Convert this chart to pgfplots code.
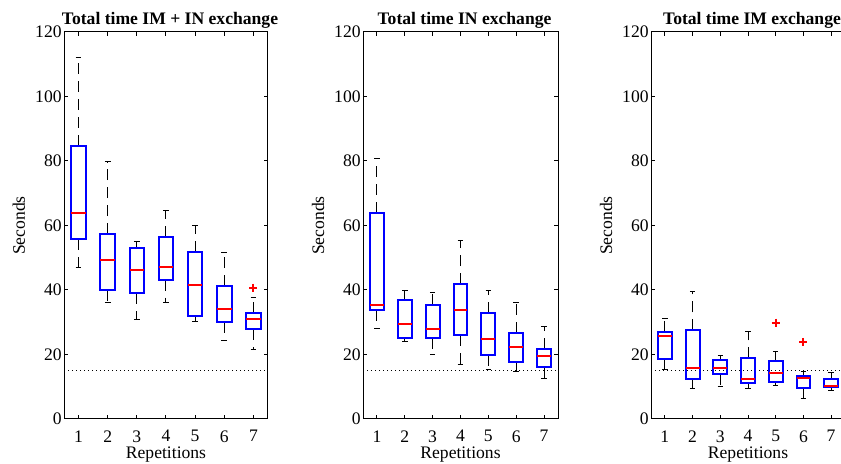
\documentclass[border=0pt]{standalone}
\usepackage{pgfplots}
\pgfplotsset{compat=1.18}
\usepgfplotslibrary{statistics}
\usepackage{fontspec}
\setmainfont{Liberation Serif}

\newcommand{\fs}{\fontsize{8.8}{10}\selectfont}

% one prepared box: position, lower whisker, lower quartile, median, upper quartile, upper whisker
\newcommand{\bx}[6]{%
  \addplot[blue, boxplot prepared={draw position=#1, lower whisker=#2, lower quartile=#3,
    median=#4, upper quartile=#5, upper whisker=#6}] coordinates {};}

\pgfplotsset{
  panel/.style={
    scale only axis, height=193.5pt,
    xmin=0.5, xmax=7.5, ymin=0, ymax=120,
    xtick={1,...,7}, ytick={0,20,...,120},
    tick align=inside, tick pos=both, major tick length=2pt,
    axis line style={line width=0.5pt},
    every tick/.style={black, line width=0.5pt},
    /pgf/number format/assume math mode=true,
    tick label style={font=\fs},
    yticklabel style={inner sep=1pt},
    xticklabel style={inner sep=1pt, yshift=-4.5pt},
    every axis title shift=0pt,
    title style={font=\fs\bfseries, at={(axis description cs:0.5,1)}, anchor=base, yshift=3.5pt, xshift=2pt},
    xlabel style={font=\fs, at={(axis description cs:0.5,0)}, anchor=base, yshift=-20pt},
    ylabel style={font=\fs, at={([xshift=-19.5pt]axis description cs:0,0.5)}, rotate=0, anchor=base},
    xlabel={Repetitions}, ylabel={Seconds},
    boxplot/draw direction=y,
    boxplot/box extend=0.5,
    boxplot/whisker extend=0.2,
    boxplot/draw/box/.code={%
      \draw[draw=blue, line width=1pt]
        (boxplot box cs:\pgfplotsboxplotvalue{lower quartile},0) rectangle
        (boxplot box cs:\pgfplotsboxplotvalue{upper quartile},1);
    },
    boxplot/draw/median/.code={%
      \draw[draw=red, line width=1pt]
        (boxplot box cs:\pgfplotsboxplotvalue{median},0) --
        (boxplot box cs:\pgfplotsboxplotvalue{median},1);
    },
    boxplot/draw/lower whisker/.code={%
      \draw[draw=black, line width=0.5pt, dash pattern=on 5.5pt off 3.5pt]
        (boxplot cs:\pgfplotsboxplotvalue{lower quartile}) -- (boxplot cs:\pgfplotsboxplotvalue{lower whisker});
      \draw[draw=black, line width=0.5pt]
        (boxplot whisker cs:\pgfplotsboxplotvalue{lower whisker},0) -- (boxplot whisker cs:\pgfplotsboxplotvalue{lower whisker},1);
    },
    boxplot/draw/upper whisker/.code={%
      \draw[draw=black, line width=0.5pt, dash pattern=on 5.5pt off 3.5pt]
        (boxplot cs:\pgfplotsboxplotvalue{upper quartile}) -- (boxplot cs:\pgfplotsboxplotvalue{upper whisker});
      \draw[draw=black, line width=0.5pt]
        (boxplot whisker cs:\pgfplotsboxplotvalue{upper whisker},0) -- (boxplot whisker cs:\pgfplotsboxplotvalue{upper whisker},1);
    },
  },
  limitline/.style={black, line width=0.5pt, dash pattern=on 0.5pt off 1.5pt},
  outlier/.style={only marks, mark=+, mark size=2pt, red, mark options={solid, line width=1pt}},
}

\begin{document}
\begin{tikzpicture}

\begin{axis}[panel, at={(32pt,22.5pt)}, anchor=south west, width=102pt,
  title={Total time IM + IN exchange}]
\addplot[limitline] coordinates {(0.5,15) (7.5,15)};
\bx{1}{47.1}{55.8}{63.8}{84.7}{112.1}
\bx{2}{36.2}{39.9}{49.2}{57.3}{79.7}
\bx{3}{30.8}{39.0}{46.2}{52.9}{54.9}
\bx{4}{36.2}{43.2}{47.0}{56.5}{64.5}
\bx{5}{30.3}{31.9}{41.7}{51.8}{60.1}
\bx{6}{24.4}{30.0}{34.1}{41.2}{51.6}
\bx{7}{21.5}{27.9}{30.9}{32.9}{37.7}
\addplot[outlier] coordinates {(7,40.7)};
\end{axis}

\begin{axis}[panel, at={(181.5pt,22.5pt)}, anchor=south west, width=97.5pt,
  title={Total time IN exchange}]
\addplot[limitline] coordinates {(0.5,15) (7.5,15)};
\bx{1}{28.2}{33.8}{35.5}{63.9}{80.9}
\bx{2}{24.0}{25.2}{29.6}{36.8}{39.9}
\bx{3}{19.9}{25.0}{28.0}{35.3}{39.1}
\bx{4}{17.0}{25.9}{33.7}{41.8}{55.3}
\bx{5}{15.3}{19.7}{24.7}{32.9}{39.9}
\bx{6}{14.8}{17.7}{22.3}{26.7}{36.2}
\bx{7}{12.5}{16.2}{19.6}{21.8}{28.6}
\end{axis}

\begin{axis}[panel, at={(325.5pt,22.5pt)}, anchor=south west, width=97pt,
  title={Total time IM exchange}]
\addplot[limitline] coordinates {(0.5,15) (7.5,15)};
\bx{1}{15.3}{18.6}{25.6}{27.1}{31.1}
\bx{2}{9.6}{12.4}{15.7}{27.5}{39.6}
\bx{3}{10.1}{14.0}{15.7}{18.2}{19.7}
\bx{4}{9.3}{11.2}{12.4}{18.8}{27.0}
\bx{5}{10.5}{11.4}{14.3}{17.9}{21.0}
\bx{6}{6.2}{9.5}{12.7}{13.2}{14.6}
\bx{7}{8.9}{9.9}{10.3}{12.4}{14.3}
\addplot[outlier] coordinates {(5,29.9) (6,23.9)};
\end{axis}

\pgfresetboundingbox
\useasboundingbox (0,0) rectangle (420.5pt,232pt);
\end{tikzpicture}
\end{document}
